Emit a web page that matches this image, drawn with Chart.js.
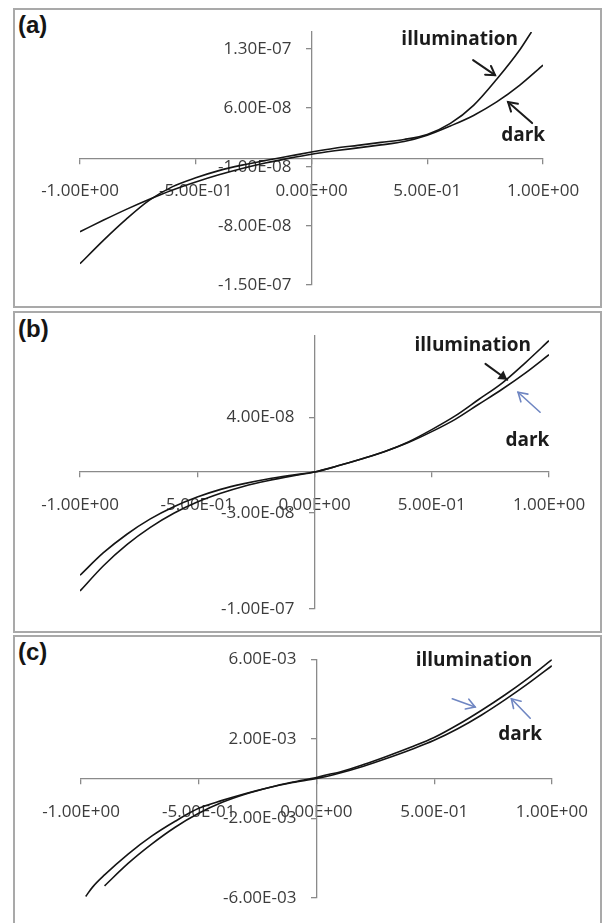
<!DOCTYPE html>
<html>
<head>
<meta charset="utf-8">
<script src="https://cdn.jsdelivr.net/npm/chart.js@4.4.1/dist/chart.umd.min.js"></script>
<style>
html,body{margin:0;padding:0;background:#fff;}
body{width:606px;height:923px;overflow:hidden;position:relative;}
.frame{position:absolute;left:13px;width:589px;border:2px solid #a9a9a9;box-sizing:border-box;}
.tag{position:absolute;left:18px;font:bold 24px "Liberation Sans",Arial,sans-serif;line-height:24px;color:#151515;}
canvas{position:absolute;left:0;}
</style>
</head>
<body>
<div class="frame" style="top:8px;height:300px"></div>
<div class="frame" style="top:311px;height:322px"></div>
<div class="frame" style="top:635px;height:300px"></div>
<div class="tag" style="top:13px">(a)</div>
<div class="tag" style="top:317px">(b)</div>
<div class="tag" style="top:640px">(c)</div>
<canvas id="ca" width="606" height="310" style="top:0px"></canvas>
<canvas id="cb" width="606" height="324" style="top:310px"></canvas>
<canvas id="cc" width="606" height="289" style="top:634px"></canvas>
<script>
// ---------- data ----------
const xTicks = [-1, -0.5, 0, 0.5, 1];

// panel (a)
const voltsA      = [-1.0,-0.9,-0.8,-0.7,-0.6,-0.5,-0.4,-0.3,-0.2,-0.1,0.0,0.1,0.2,0.3,0.4,0.5,0.6,0.7,0.8,0.9,1.0];
const voltsIllumA = [-1.0,-0.9,-0.8,-0.7,-0.6,-0.5,-0.4,-0.3,-0.2,-0.1,0.0,0.1,0.2,0.3,0.4,0.5,0.6,0.7,0.8,0.9,0.95];
const illumA = [-1.25e-7,-9.75e-8,-7.2e-8,-4.95e-8,-3.35e-8,-2.3e-8,-1.45e-8,-8e-9,-2.5e-9,2.5e-9,7.5e-9,1.2e-8,1.55e-8,1.9e-8,2.25e-8,2.85e-8,4.15e-8,6.3e-8,9.4e-8,1.29e-7,1.5e-7];
const darkA  = [-8.7e-8,-7.35e-8,-6.05e-8,-4.85e-8,-3.75e-8,-2.8e-8,-1.95e-8,-1.2e-8,-5.5e-9,0,5e-9,9e-9,1.25e-8,1.6e-8,2.0e-8,2.75e-8,3.85e-8,5.1e-8,6.7e-8,8.7e-8,1.107e-7];
const yTicksA = [-1.5e-7,-8e-8,-1e-8,6e-8,1.3e-7];

// panel (b)
const voltsB = [-1.0,-0.9,-0.8,-0.7,-0.6,-0.5,-0.4,-0.3,-0.2,-0.1,0.0,0.1,0.2,0.3,0.4,0.5,0.6,0.7,0.8,0.9,1.0];
const illumB = [-8.7e-8,-6.85e-8,-5.31e-8,-4.05e-8,-3.02e-8,-2.2e-8,-1.56e-8,-1.04e-8,-6.4e-9,-3e-9,0,4.5e-9,9.5e-9,1.5e-8,2.2e-8,3.1e-8,4.1e-8,5.3e-8,6.5e-8,8.0e-8,9.6e-8];
const darkB  = [-7.55e-8,-5.9e-8,-4.55e-8,-3.43e-8,-2.54e-8,-1.83e-8,-1.27e-8,-8.5e-9,-5.1e-9,-2.4e-9,0,4.5e-9,9.5e-9,1.5e-8,2.15e-8,2.95e-8,3.85e-8,4.95e-8,6.05e-8,7.25e-8,8.58e-8];
const yTicksB = [-1e-7,-3e-8,4e-8];

// panel (c)
const voltsIllumC = [-0.9,-0.8,-0.7,-0.6,-0.5,-0.4,-0.3,-0.2,-0.1,0.0,0.05,0.1,0.2,0.3,0.4,0.5,0.6,0.7,0.8,0.9,1.0];
const illumC = [-5.4e-3,-4.27e-3,-3.3e-3,-2.45e-3,-1.75e-3,-1.2e-3,-7.8e-4,-4.5e-4,-1.8e-4,5e-5,2e-4,3.3e-4,7e-4,1.12e-3,1.57e-3,2.06e-3,2.7e-3,3.42e-3,4.2e-3,5.05e-3,5.98e-3];
const voltsDarkC = [-0.98,-0.95,-0.9,-0.8,-0.7,-0.6,-0.5,-0.4,-0.3,-0.2,-0.1,0.0,0.1,0.2,0.3,0.4,0.5,0.6,0.7,0.8,0.9,1.0];
const darkC  = [-5.93e-3,-5.45e-3,-4.85e-3,-3.8e-3,-2.9e-3,-2.15e-3,-1.5e-3,-1.1e-3,-7.5e-4,-4.5e-4,-2e-4,0,2.8e-4,6.2e-4,1.02e-3,1.45e-3,1.92e-3,2.5e-3,3.18e-3,3.95e-3,4.78e-3,5.67e-3];
const yTicksC = [-6e-3,-2e-3,2e-3,6e-3];

// ---------- helpers ----------
const AXIS = '#8a8a8a';
const TICKFONT = {family:'"Open Sans", sans-serif', size:17};
const TICKCOLOR = '#3c3c3c';
const BLUE = '#6f86c2';
const YLABEL_GAP = 20;

function sci(v){
  if (Math.abs(v) < 1e-15) return '0.00E+00';
  const parts = Number(v).toExponential(2).split('e');
  const e = parseInt(parts[1], 10);
  return parts[0] + 'E' + (e < 0 ? '-' : '+') + String(Math.abs(e)).padStart(2, '0');
}
function pts(xs, ys){ return xs.map((x, i) => ({x: x, y: ys[i]})); }

// keeps the y tick labels a little left of the crossing axis, as in the original
const yLabelGap = {
  id: 'yLabelGap',
  beforeDraw(chart){
    const s = chart.scales.y;
    const items = s.getLabelItems(chart.chartArea);
    if (!items.__shifted){
      items.forEach(it => { it.options.translation[0] -= YLABEL_GAP; });
      items.__shifted = true;
    }
  }
};

function notesPlugin(notes){
  return {
    id: 'notes',
    afterDatasetsDraw(chart){
      const ctx = chart.ctx, xs = chart.scales.x, ys = chart.scales.y;
      ctx.save();
      notes.arrows.forEach(a => {
        const x0 = xs.getPixelForValue(a.from[0]), y0 = ys.getPixelForValue(a.from[1]);
        const x1 = xs.getPixelForValue(a.to[0]),   y1 = ys.getPixelForValue(a.to[1]);
        ctx.strokeStyle = a.color; ctx.fillStyle = a.color;
        ctx.lineWidth = a.width; ctx.lineCap = 'round'; ctx.lineJoin = 'miter';
        ctx.beginPath(); ctx.moveTo(x0, y0); ctx.lineTo(x1, y1); ctx.stroke();
        const ang = Math.atan2(y1 - y0, x1 - x0), L = a.head, s = 0.55;
        const ax = x1 - L*Math.cos(ang - s), ay = y1 - L*Math.sin(ang - s);
        const bx = x1 - L*Math.cos(ang + s), by = y1 - L*Math.sin(ang + s);
        ctx.beginPath();
        if (a.filled){ ctx.moveTo(ax, ay); ctx.lineTo(x1, y1); ctx.lineTo(bx, by); ctx.closePath(); ctx.fill(); }
        else { ctx.moveTo(ax, ay); ctx.lineTo(x1, y1); ctx.lineTo(bx, by); ctx.stroke(); }
      });
      ctx.font = 'bold 19px "Open Sans", sans-serif';
      ctx.fillStyle = '#1b1b1b'; ctx.textAlign = 'center'; ctx.textBaseline = 'middle';
      notes.texts.forEach(t => {
        ctx.fillText(t.text, xs.getPixelForValue(t.at[0]), ys.getPixelForValue(t.at[1]));
      });
      ctx.restore();
    }
  };
}

function makeChart(id, c){
  const lineStyle = {showLine:true, pointRadius:0, borderColor:'#151515', borderWidth:1.6,
                     cubicInterpolationMode:'monotone', fill:false};
  return new Chart(document.getElementById(id), {
    type: 'scatter',
    data: {datasets: [
      Object.assign({label:'illumination', data: pts(c.xi, c.yi)}, lineStyle),
      Object.assign({label:'dark', data: pts(c.xd, c.yd)}, lineStyle)
    ]},
    options: {
      responsive:false, animation:false, events:[],
      layout:{padding:c.pad},
      plugins:{legend:{display:false}, tooltip:{enabled:false}},
      scales:{
        x:{type:'linear', min:-1, max:1, position:{y:0},
           afterBuildTicks: s => { s.ticks = xTicks.map(v => ({value:v})); },
           afterFit: s => { s.height = 0; },
           grid:{display:true, drawOnChartArea:false, drawTicks:true, tickLength:5, color:AXIS, lineWidth:1.3},
           border:{display:true, color:AXIS, width:1.3},
           ticks:{font:TICKFONT, color:TICKCOLOR, padding:18, autoSkip:false, maxRotation:0, callback: v => sci(v)}},
        y:{type:'linear', min:c.ymin, max:c.ymax, position:{x:0},
           afterBuildTicks: s => { s.ticks = c.yticks.map(v => ({value:v})); },
           afterFit: s => { s.width = 0; },
           grid:{display:true, drawOnChartArea:false, drawTicks:true, tickLength:5, color:AXIS, lineWidth:1.3},
           border:{display:true, color:AXIS, width:1.3},
           ticks:{font:TICKFONT, color:TICKCOLOR, padding:15, autoSkip:false, callback: v => sci(v)}}
      }
    },
    plugins:[yLabelGap, notesPlugin(c.notes)]
  });
}

makeChart('ca', {
  xi: voltsIllumA, yi: illumA, xd: voltsA, yd: darkA,
  ymin:-1.5e-7, ymax:1.5e-7, yticks:yTicksA,
  pad:{left:80, right:63, top:32, bottom:25},
  notes:{
    texts:[{text:'illumination', at:[0.64, 1.415e-7]}, {text:'dark', at:[0.914, 2.76e-8]}],
    arrows:[{from:[0.698, 1.166e-7], to:[0.793, 9.88e-8], color:'#1b1b1b', width:2, head:10, filled:false},
            {from:[0.953, 4.19e-8], to:[0.849, 6.68e-8], color:'#1b1b1b', width:2, head:10, filled:false}]
  }
});

makeChart('cb', {
  xi: voltsB, yi: illumB, xd: voltsB, yd: darkB,
  ymin:-1e-7, ymax:1e-7, yticks:yTicksB,
  pad:{left:80, right:57, top:25, bottom:15},
  notes:{
    texts:[{text:'illumination', at:[0.675, 9.24e-8]}, {text:'dark', at:[0.908, 2.31e-8]}],
    arrows:[{from:[0.729, 7.9e-8], to:[0.822, 6.74e-8], color:'#1b1b1b', width:2, head:10, filled:true},
            {from:[0.962, 4.37e-8], to:[0.868, 5.83e-8], color:BLUE, width:1.6, head:10, filled:false}]
  }
});

makeChart('cc', {
  xi: voltsIllumC, yi: illumC, xd: voltsDarkC, yd: darkC,
  ymin:-6e-3, ymax:6e-3, yticks:yTicksC,
  pad:{left:81, right:47, top:24, bottom:19},
  notes:{
    texts:[{text:'illumination', at:[0.669, 5.92e-3]}, {text:'dark', at:[0.865, 2.21e-3]}],
    arrows:[{from:[0.577, 4.01e-3], to:[0.674, 3.6e-3], color:BLUE, width:1.6, head:10, filled:false},
            {from:[0.908, 3.03e-3], to:[0.828, 4.01e-3], color:BLUE, width:1.6, head:10, filled:false}]
  }
});
</script>
</body>
</html>
